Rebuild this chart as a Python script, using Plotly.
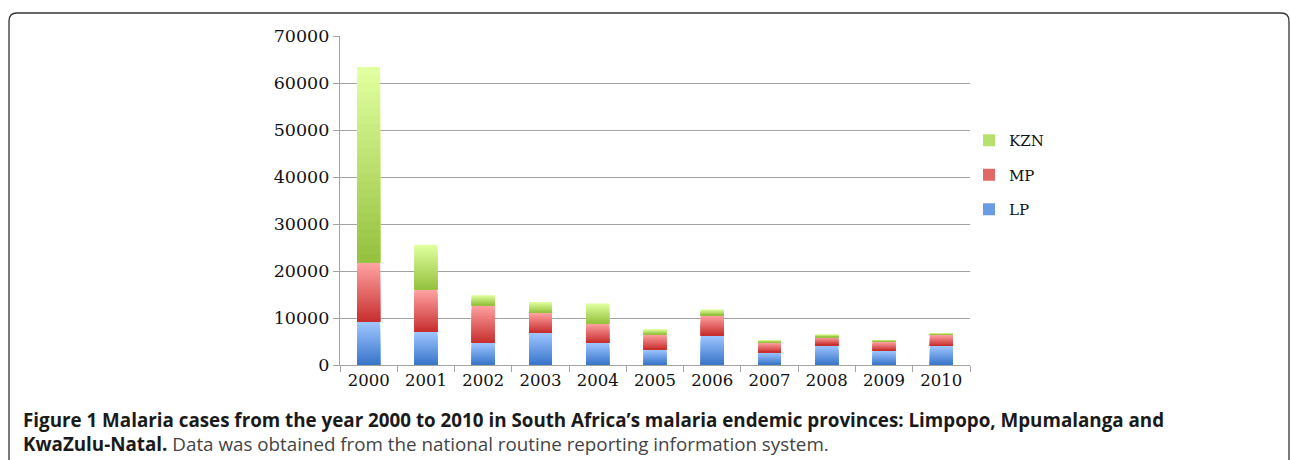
import plotly.graph_objects as go

# ---- data ----
years = ["2000", "2001", "2002", "2003", "2004", "2005", "2006", "2007", "2008", "2009", "2010"]
lp = [9200, 7100, 4750, 6900, 4750, 3300, 6300, 2700, 4250, 3050, 4050]
mp = [12600, 9000, 8000, 4200, 4100, 3200, 4300, 2000, 1650, 1850, 2350]
kzn = [41600, 9500, 2100, 2300, 4250, 1100, 1200, 600, 600, 430, 270]
y_ticks = [0, 10000, 20000, 30000, 40000, 50000, 60000, 70000]

caption1 = ("<b>Figure 1 Malaria cases from the year 2000 to 2010 in South Africa\u2019s malaria "
            "endemic provinces: Limpopo, Mpumalanga and</b>")
caption2 = ("<b>KwaZulu-Natal.</b><span style='color:#444'> Data was obtained from the national "
            "routine reporting information system.</span>")

# ---- layout geometry ----
W, H = 1290, 460
L, R, T, B = 340, 970, 36, 365


def px(x):
    return (x - L) / (R - L)


def py(y):
    return (B - y) / (B - T)


def mix(c1, c2, f):
    return "rgb(%d,%d,%d)" % tuple(round(a + (b - a) * f) for a, b in zip(c1, c2))


series = [
    ("LP", lp, (158, 197, 255), (58, 118, 202), 3),
    ("MP", mp, (255, 162, 162), (200, 48, 48), 2),
    ("KZN", kzn, (224, 255, 158), (150, 194, 64), 1),
]

fig = go.Figure()
K = 24
base = [0] * len(years)
for name, vals, light, dark, rank in series:
    for i in range(K):
        f = i / (K - 1)
        heights = [v * (1 - i / K) for v in vals]
        fig.add_trace(go.Bar(
            x=years, y=heights, base=base,
            marker=dict(color=mix(light, dark, f), line=dict(width=0)),
            width=0.4, name=name, legendgroup=name, legendrank=rank,
            showlegend=(i == K // 2), hoverinfo="skip",
        ))
    base = [b + v for b, v in zip(base, vals)]

grid = "#a3a3a3"
fig.update_layout(
    width=W, height=H,
    margin=dict(l=L, r=W - R, t=T, b=H - B),
    paper_bgcolor="white", plot_bgcolor="white",
    barmode="overlay",
    showlegend=True,
    legend=dict(
        x=px(969), y=py(124), xanchor="left", yanchor="top",
        traceorder="grouped", tracegroupgap=12,
        font=dict(family="DejaVu Serif", size=15, color="#111"),
        itemwidth=30, bgcolor="rgba(0,0,0,0)",
    ),
    xaxis=dict(
        type="category", range=[-0.5, 10.5],
        showline=True, linecolor=grid, linewidth=1.3,
        ticks="outside", tickson="boundaries", ticklen=6, tickcolor=grid, tickwidth=1.3,
        showgrid=False,
        tickfont=dict(family="DejaVu Serif", size=16.5, color="#111"),
    ),
    yaxis=dict(
        range=[0, 70000], tickvals=y_ticks, ticktext=[str(v) for v in y_ticks],
        showgrid=True, gridcolor=grid, gridwidth=1.3,
        showline=True, linecolor=grid, linewidth=1.3,
        ticks="outside", ticklen=6, tickcolor=grid, tickwidth=1.3,
        zeroline=False,
        tickfont=dict(family="DejaVu Serif", size=17.5, color="#111"),
    ),
    font=dict(family="DejaVu Serif"),
)

# caption (two lines in one text block)
fig.add_annotation(text=caption1 + "<br>" + caption2, xref="paper", yref="paper",
                   x=px(21), y=py(432), xanchor="left", yanchor="middle",
                   showarrow=False, align="left",
                   font=dict(family="Open Sans", size=18.8, color="#1a1a1a"))

# rounded frame around the figure
x0, y0, x1, y1, r = px(9), py(13), px(1289), py(475), 8
rx, ry = r / (R - L), r / (B - T)
path = (f"M {x0},{y1} L {x0},{y0 - ry} Q {x0},{y0} {x0 + rx},{y0} "
        f"L {x1 - rx},{y0} Q {x1},{y0} {x1},{y0 - ry} L {x1},{y1}")
fig.add_shape(type="path", path=path, xref="paper", yref="paper",
              line=dict(color="#333", width=1.3), layer="above")

fig.write_html("out.html", config={"displayModeBar": False},
               post_script="document.body.style.margin='0';")
